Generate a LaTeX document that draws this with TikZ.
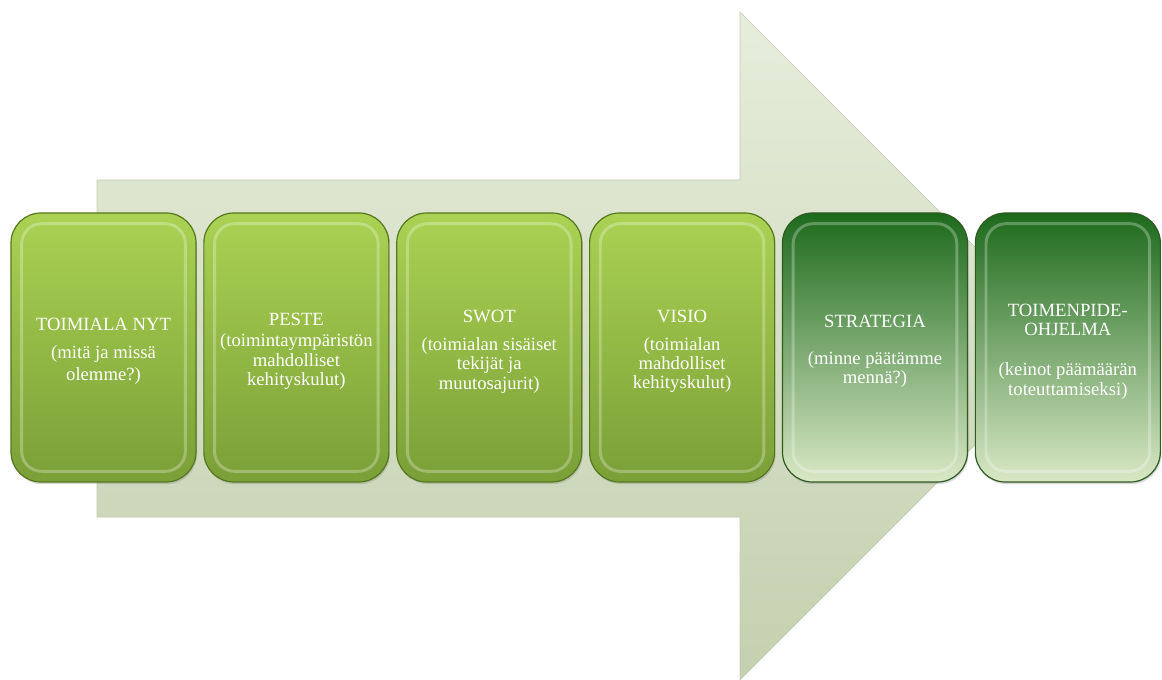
\documentclass[tikz,border=0pt]{standalone}
\usepackage{fontspec}
\setmainfont{Liberation Serif}
\usetikzlibrary{positioning,shadows}

\definecolor{arrowtop}{HTML}{E6EDDB}
\definecolor{arrowbot}{HTML}{C4D0AF}
\definecolor{arrowline}{HTML}{C2CDB0}
\definecolor{limetop}{HTML}{ABD253}
\definecolor{limemid}{HTML}{98C146}
\definecolor{limebot}{HTML}{7A9F37}
\definecolor{limeline}{HTML}{55771D}
\definecolor{deeptop}{HTML}{1D6A1C}
\definecolor{deepmid}{HTML}{7FAC58}
\definecolor{deepbot}{HTML}{D9E8C6}
\definecolor{deepline}{HTML}{2F5A22}

\tikzset{
  stage/.style={rounded corners=22.5pt, minimum width=138.75pt, minimum height=201.75pt,
    inner sep=0pt, line width=0.9pt,
    drop shadow={opacity=0.3, shadow xshift=0.8pt, shadow yshift=-1.6pt},
    path picture={
      \draw[white, opacity=0.28, line width=2.2pt, rounded corners=15pt]
        ([shift={(8pt,8pt)}]path picture bounding box.south west) rectangle
        ([shift={(-8pt,-8pt)}]path picture bounding box.north east);
    }},
  limestage/.style={stage, draw=limeline, top color=limetop, middle color=limemid, bottom color=limebot},
  deepstage/.style={stage, draw=deepline, top color=deeptop, middle color=deepmid, bottom color=deepbot},
  caption/.style={align=center, text=white, inner sep=0pt, yshift=-3pt,
    font=\fontsize{14}{14.5}\selectfont}
}

\begin{document}
\begin{tikzpicture}[x=0.75pt,y=-0.75pt]
\useasboundingbox (0,0) rectangle (1162,680);

% big arrow behind the stages
\draw[arrowline, top color=arrowtop, bottom color=arrowbot]
  (97,180) -- (740,180) -- (740,12) -- (1074,346) -- (740,680) -- (740,517) -- (97,517) -- cycle;

% stages
\node[limestage] (nyt) at (103.5,347.5) {};
\node[limestage, right=5pt of nyt] (peste) {};
\node[limestage, right=5pt of peste] (swot) {};
\node[limestage, right=5pt of swot] (visio) {};
\node[deepstage, right=5pt of visio] (strategia) {};
\node[deepstage, right=5pt of strategia] (ohjelma) {};

% texts
\node[caption] (nyt-text) at (nyt.center) {TOIMIALA NYT\\[6.5pt](mitä ja missä\\[2pt]olemme?)};
\node[caption] (peste-text) at (peste.center) {PESTE\\[1.2pt](toimintaympäristön\\mahdolliset\\kehityskulut)};
\node[caption] (swot-text) at (swot.center) {SWOT\\[6.5pt](toimialan sisäiset\\tekijät ja\\muutosajurit)};
\node[caption] (visio-text) at (visio.center) {VISIO\\[6.5pt](toimialan\\mahdolliset\\kehityskulut)};
\node[caption] (strategia-text) at (strategia.center) {STRATEGIA\\[13pt](minne päätämme\\mennä?)};
\node[caption] (ohjelma-text) at (ohjelma.center) {TOIMENPIDE-\\OHJELMA\\[15.5pt](keinot päämäärän\\toteuttamiseksi)};
\end{tikzpicture}
\end{document}
